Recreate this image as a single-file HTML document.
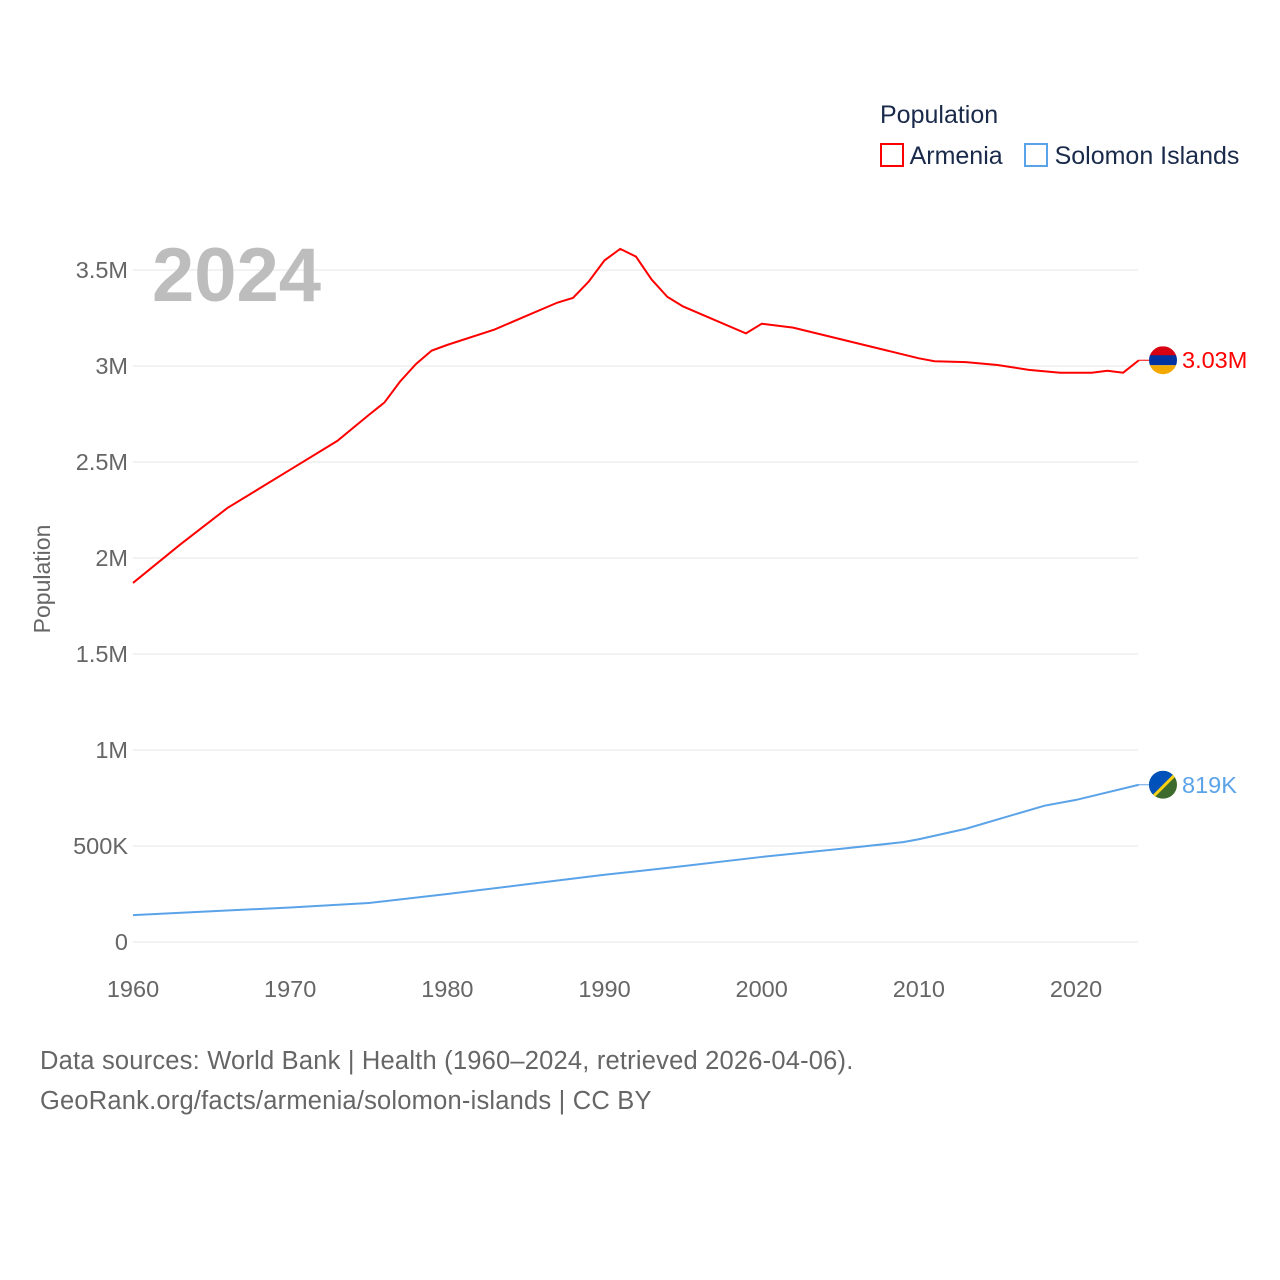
<!DOCTYPE html>
<html><head><meta charset="utf-8"><style>
body{margin:0;background:#fff;font-family:"Liberation Sans",sans-serif}
svg{display:block}
</style></head><body>
<svg id="chart" width="1280" height="1280">
</svg>
<script>
const years=[1960,1963,1966,1968,1970,1973,1975,1976,1977,1978,1979,1980,1983,1985,1987,1988,1989,1990,1991,1992,1993,1994,1995,1997,1999,2000,2002,2005,2008,2010,2011,2013,2015,2017,2019,2021,2022,2023,2024];
const armenia=[1.87,2.07,2.26,2.36,2.46,2.61,2.745,2.81,2.92,3.01,3.08,3.11,3.19,3.26,3.33,3.355,3.44,3.55,3.61,3.57,3.45,3.36,3.31,3.24,3.17,3.22,3.2,3.14,3.08,3.04,3.025,3.02,3.005,2.98,2.965,2.965,2.975,2.965,3.03];
const solYears=[1960,1965,1970,1975,1980,1985,1990,1995,2000,2005,2009,2010,2013,2018,2020,2024];
const solomon=[0.14,0.16,0.18,0.203,0.25,0.3,0.35,0.395,0.443,0.485,0.52,0.535,0.59,0.71,0.74,0.819];
const yTicks=[0,0.5,1,1.5,2,2.5,3,3.5];
const yTickLabels=["0","500K","1M","1.5M","2M","2.5M","3M","3.5M"];
const xTicks=[1960,1970,1980,1990,2000,2010,2020];

const NS="http://www.w3.org/2000/svg";
const svg=document.getElementById('chart');
const X=y=>133+(y-1960)*(1076-133)/60;
const Y=v=>942-v*192;
function mk(tag,attrs,parent){const e=document.createElementNS(NS,tag);for(const k in attrs)e.setAttribute(k,attrs[k]);(parent||svg).appendChild(e);return e;}

yTicks.forEach((v,i)=>{
 const g=mk('line',{x1:133,x2:1138,y1:Y(v),y2:Y(v),stroke:'#e6e6e6','stroke-width':1});
 
 
 const t=mk('text',{x:128,y:Y(v)+8,'text-anchor':'end','font-size':23.5,fill:'#666'});
 t.textContent=yTickLabels[i];
 
 
});
xTicks.forEach(v=>{
 const t=mk('text',{x:X(v),y:997,'text-anchor':'middle','font-size':23.5,fill:'#666'});
 t.textContent=v;
 
 
});
const yt=mk('text',{x:0,y:0,transform:'translate(50,579) rotate(-90)','text-anchor':'middle','font-size':23,fill:'#666'});
yt.textContent='Population';



const yr=mk('text',{x:152,y:301,'font-size':76,'font-weight':'bold',fill:'#bdbdbd'});
yr.textContent='2024';



const pa=mk('polyline',{points:years.map((y,i)=>X(y)+','+Y(armenia[i])).join(' '),fill:'none',stroke:'#ff0000','stroke-width':2});


const ps=mk('polyline',{points:solYears.map((y,i)=>X(y)+','+Y(solomon[i])).join(' '),fill:'none',stroke:'#5ba3e8','stroke-width':2});



const ay=Y(armenia[armenia.length-1]), sy=Y(solomon[solomon.length-1]);
mk('line',{x1:1139,x2:1149,y1:ay,y2:ay,stroke:'#ff0000','stroke-width':1});
mk('line',{x1:1139,x2:1149,y1:sy,y2:sy,stroke:'#5ba3e8','stroke-width':1});
const defs=mk('defs',{});
mk('clipPath',{id:'ca'},defs);mk('circle',{cx:1163,cy:ay,r:14},defs.lastChild);
mk('clipPath',{id:'cs'},defs);mk('circle',{cx:1163,cy:sy,r:14},defs.lastChild);
const fa=mk('g',{'clip-path':'url(#ca)'});


mk('rect',{x:1149,y:ay-14,width:28,height:10,fill:'#d90012'},fa);
mk('rect',{x:1149,y:ay-5,width:28,height:10,fill:'#0033a0'},fa);
mk('rect',{x:1149,y:ay+5,width:28,height:10,fill:'#f2a800'},fa);
const fs=mk('g',{'clip-path':'url(#cs)'});


mk('rect',{x:1149,y:sy-14,width:28,height:28,fill:'#3d6b2d'},fs);
mk('polygon',{points:`1149,${sy-14} 1177,${sy-14} 1149,${sy+14}`,fill:'#0051ba'},fs);
mk('line',{x1:1149,y1:sy+16,x2:1179,y2:sy-14,stroke:'#fcd116','stroke-width':3},fs);
const la=mk('text',{x:1182,y:ay+8,'font-size':23.5,fill:'#ff0000'});
la.textContent='3.03M';


const ls=mk('text',{x:1182,y:sy+8,'font-size':23.5,fill:'#5ba3e8'});
ls.textContent='819K';


</script>
<div style="position:absolute;left:880px;top:101px;color:#1a2a4a;font-size:25px">
 <div>Population</div>
 <div style="margin-top:12px;white-space:nowrap">
  <span><span style="display:inline-block;width:24px;height:24px;border:2px solid #ff0000;box-sizing:border-box;vertical-align:-3px"></span> Armenia</span>
  <span style="margin-left:14px"><span style="display:inline-block;width:24px;height:24px;border:2px solid #5ba3e8;box-sizing:border-box;vertical-align:-3px"></span> Solomon Islands</span>
 </div>
</div>
<div style="position:absolute;left:40px;top:1041px;color:#666;font-size:25.5px;line-height:40px;letter-spacing:0.2px">
 Data sources: World Bank | Health (1960–2024, retrieved 2026-04-06).<br>GeoRank.org/facts/armenia/solomon-islands | CC BY
</div>
</body></html>
